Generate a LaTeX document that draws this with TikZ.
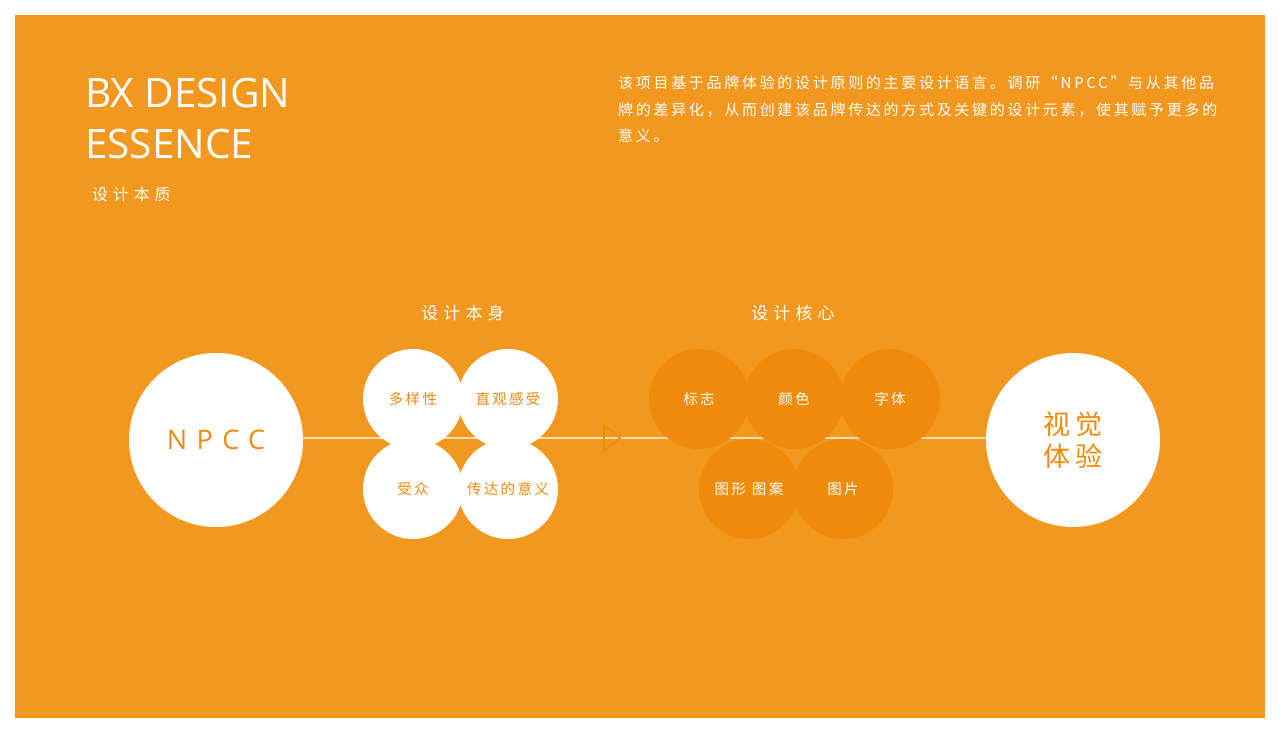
\documentclass[tikz,border=0pt]{standalone}
\usepackage{fontspec}
\usepackage{xcolor}
\setmainfont{Open Sans}
\newfontfamily\cjk{Noto Sans CJK SC}

\begin{document}
\begin{tikzpicture}[x=1pt,y=-1pt,
  bigdisc/.style={circle,fill=white,minimum size=174pt,inner sep=0pt},
  whitedisc/.style={circle,fill=white,minimum size=100pt,inner sep=0pt,text=deepOrange,
    font={\cjk\fontsize{14.5}{17}\selectfont\addfontfeature{LetterSpace=16}}},
  darkdisc/.style={circle,fill=deepOrange,minimum size=100pt,inner sep=0pt,text=white,
    font={\cjk\fontsize{14.5}{17}\selectfont\addfontfeature{LetterSpace=16}}},
  heading/.style={text=white,inner sep=0pt,
    font={\cjk\fontsize{17}{20}\selectfont\addfontfeature{LetterSpace=30}}}]
\definecolor{bgOrange}{RGB}{242,152,31}
\definecolor{deepOrange}{RGB}{239,138,10}
\definecolor{lineCream}{RGB}{251,222,176}
\useasboundingbox (0,0) rectangle (1280,734);
\fill[white] (0,0) rectangle (1280,734);
\fill[bgOrange] (15,15) rectangle (1265,718);

\node[anchor=base west,inner sep=0pt,text=white,font=\fontsize{40.5}{50}\selectfont] (title1) at (85,107) {BX DESIGN};
\node[anchor=base west,inner sep=0pt,text=white,font=\fontsize{40.5}{50}\selectfont] (title2) at (85,158) {ESSENCE};
\node[anchor=base west,inner sep=0pt,text=white,font={\cjk\fontsize{16}{19}\selectfont\addfontfeature{LetterSpace=30}}] (subtitle) at (92,200) {设计本质};

\node[anchor=north west,inner sep=0pt,text=white,align=left,
  font={\cjk\fontsize{15}{26.5}\selectfont\addfontfeature{LetterSpace=18}}] (intro) at (618,76)
  {该项目基于品牌体验的设计原则的主要设计语言。调研“NPCC”与从其他品\\
   牌的差异化，从而创建该品牌传达的方式及关键的设计元素，使其赋予更多的\\
   意义。};

\node[heading] (selfhead) at (463,313) {设计本身};
\node[heading] (corehead) at (793,313) {设计核心};

\node[bigdisc,text=deepOrange,font={\fontsize{27}{32}\selectfont\addfontfeature{LetterSpace=35}}] (npcc) at (216,440) {NPCC};
\node[bigdisc,text=deepOrange,align=center,font={\cjk\fontsize{27}{32}\selectfont\addfontfeature{LetterSpace=18}}] (visual) at (1073,440) {视觉\\体验};

\draw[lineCream,line width=1.5pt] ([yshift=2pt]npcc.east) -- ([yshift=2pt]visual.west);
\draw[deepOrange,line width=1.6pt,line join=miter] (604,425) -- (620,438) -- (604,451) -- cycle;

\node[whitedisc] (variety) at (413,399) {多样性};
\node[whitedisc] (feeling) at (508,399) {直观感受};
\node[whitedisc] (audience) at (413,489) {受众};
\node[whitedisc] (meaning) at (508,489) {传达的意义};

\node[darkdisc] (logo) at (699,399) {标志};
\node[darkdisc] (colour) at (794,399) {颜色};
\node[darkdisc] (typeface) at (890,399) {字体};
\node[darkdisc] (pattern) at (749,489) {图形\hspace{6pt}图案};
\node[darkdisc] (picture) at (843,489) {图片};
\end{tikzpicture}
\end{document}
